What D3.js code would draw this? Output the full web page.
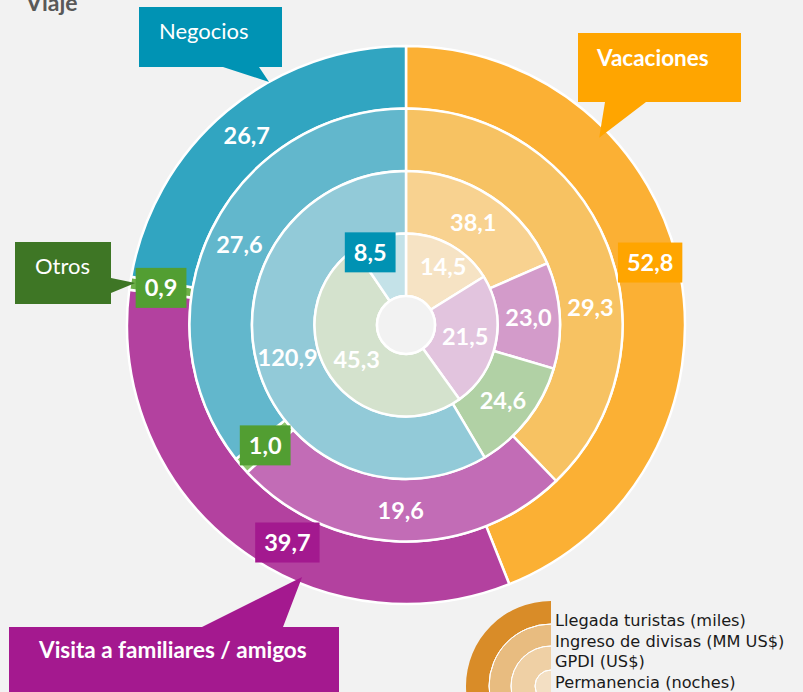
<!DOCTYPE html>
<html lang="es">
<head>
<meta charset="utf-8">
<title>Viaje</title>
<script src="https://cdn.jsdelivr.net/npm/d3@7"></script>
<style>
  html, body { margin: 0; padding: 0; background: #F2F2F2; }
  svg { display: block; }
</style>
</head>
<body>
<svg id="chart" width="803" height="692"></svg>
<script>
// Motivos de viaje, en el orden en que se recorren los anillos (sentido horario desde arriba)
const categories = ["Vacaciones", "Visita a familiares / amigos", "Otros", "Negocios"];

// Indicadores, del anillo exterior al interior
const indicators = ["Llegada turistas (miles)", "Ingreso de divisas (MM US$)", "GPDI (US$)", "Permanencia (noches)"];

// Valores por indicador (mismo orden que categories)
const llegadaTuristas = [52.8, 39.7, 0.9, 26.7];
const ingresoDivisas  = [29.3, 19.6, 1.0, 27.6];
const gpdi            = [38.1, 23.0, 24.6, 120.9];
const permanencia     = [14.5, 21.5, 45.3, 8.5];

const series = [llegadaTuristas, ingresoDivisas, gpdi, permanencia];

// Paleta: una fila por anillo, una columna por motivo
const palette = [
  ["#FBB034", "#B3419F", "#6FB04A", "#31A5C1"],
  ["#F7C262", "#C26CB6", "#8FC46E", "#62B7CC"],
  ["#F8D290", "#D39BCA", "#B1D1A5", "#92CAD8"],
  ["#F6E3C4", "#E2C4DE", "#D4E2CD", "#C4E2E8"]
];
const legendColors = ["#D98C28", "#E8BC80", "#EFD0A5", "#F3DFC3"];

// Etiquetas con recuadro de color: "anillo-motivo" -> color
const boxed = {
  "0-0": "#FFA500",
  "0-1": "#A3198F",
  "0-2": "#529E32",
  "1-2": "#529E32",
  "3-3": "#0092B3"
};
// Ajustes de posición de algunas etiquetas (fracción del sector, radio)
const labelTweak = {
  "0-0": { t: 0.478, r: 252 },
  "0-1": { t: 0.423 },
  "1-0": { t: 0.622 },
  "3-0": { t: 0.56, r: 69 },
  "3-3": { t: 0.23, r: 81 }
};

const fmt = v => d3.format(".1f")(v).replace(".", ",");

const svg = d3.select("#chart");
const cx = 406, cy = 325;

// Bordes radiales de los anillos: exterior -> interior
const radius = d3.scaleLinear().domain([0, 4]).range([279, 29]);

const pie = d3.pie().sort(null).value(d => d).startAngle(0).endAngle(2 * Math.PI);

const g = svg.append("g").attr("transform", `translate(${cx},${cy})`);

function polar(angle, r) {
  return [r * Math.sin(angle), -r * Math.cos(angle)];
}

series.forEach((values, ring) => {
  const rOut = radius(ring), rIn = radius(ring + 1);
  const arc = d3.arc().innerRadius(rIn).outerRadius(rOut);
  const arcs = pie(values);

  g.append("g").selectAll("path")
    .data(arcs)
    .join("path")
    .attr("d", arc)
    .attr("fill", (d, i) => palette[ring][i])
    .attr("stroke", "#FFFFFF")
    .attr("stroke-width", 2.5)
    .attr("stroke-linejoin", "round");
});

// Hueco central
g.append("circle")
  .attr("r", radius(4))
  .attr("fill", "#F2F2F2")
  .attr("stroke", "#FFFFFF")
  .attr("stroke-width", 2.5);

// Etiquetas de valores
const labelFont = "Lato, 'Open Sans', sans-serif";
series.forEach((values, ring) => {
  const rOut = radius(ring), rIn = radius(ring + 1);
  const arcs = pie(values);
  arcs.forEach((d, i) => {
    const key = `${ring}-${i}`;
    const tw = labelTweak[key] || {};
    const t = tw.t !== undefined ? tw.t : 0.5;
    const r = tw.r !== undefined ? tw.r : (rIn + rOut) / 2;
    const a = d.startAngle + (d.endAngle - d.startAngle) * t;
    const [x, y] = polar(a, r);
    const lg = g.append("g").attr("transform", `translate(${x},${y})`);
    const text = lg.append("text")
      .attr("text-anchor", "middle")
      .attr("dy", "0.36em")
      .attr("font-family", labelFont)
      .attr("font-weight", 700)
      .attr("font-size", 23.5)
      .attr("fill", "#FFFFFF")
      .text(fmt(d.data));
    if (boxed[key]) {
      const w = text.node().getComputedTextLength() + 18;
      lg.insert("rect", "text")
        .attr("x", -w / 2).attr("y", -20)
        .attr("width", w).attr("height", 40)
        .attr("fill", boxed[key]);
    }
  });
});

// Llamadas con el nombre de cada motivo
const callouts = [
  { name: categories[3], color: "#0093B4", box: [139, 7, 143, 60], side: "bottom", base: [223, 259],
    tip: [330.6, 279], text: [159, 39], weight: 400 },
  { name: categories[0], color: "#FFA500", box: [578, 33, 163, 69], side: "bottom", base: [605, 646],
    tip: [45.9, 269], text: [597, 66], weight: 700 },
  { name: categories[2], color: "#3E7625", box: [15, 242, 96, 62], side: "right", base: [278, 293],
    tip: [278.8, 274], text: [35, 274], weight: 400 },
  { name: categories[1], color: "#A4198F", box: [9, 627, 330, 80], side: "top", base: [202, 283],
    tip: [202.4, 272.6], text: [39, 658], weight: 700 }
];

callouts.forEach(c => {
  const [bx, by, bw, bh] = c.box;
  const [tx, ty] = polar(c.tip[0] * Math.PI / 180, c.tip[1]);
  const tip = [cx + tx, cy + ty];
  let pts;
  if (c.side === "bottom") {
    pts = [[bx, by], [bx + bw, by], [bx + bw, by + bh], [c.base[1], by + bh], tip, [c.base[0], by + bh], [bx, by + bh]];
  } else if (c.side === "top") {
    pts = [[bx, by], [c.base[0], by], tip, [c.base[1], by], [bx + bw, by], [bx + bw, by + bh], [bx, by + bh]];
  } else {
    pts = [[bx, by], [bx + bw, by], [bx + bw, c.base[0]], tip, [bx + bw, c.base[1]], [bx + bw, by + bh], [bx, by + bh]];
  }
  svg.append("path")
    .attr("d", d3.line()(pts) + "Z")
    .attr("fill", c.color);
  svg.append("text")
    .attr("x", c.text[0]).attr("y", c.text[1])
    .attr("font-family", labelFont)
    .attr("font-weight", c.weight)
    .attr("font-size", c.weight === 700 ? 22.5 : 22)
    .attr("fill", "#FFFFFF")
    .text(c.name);
});

// Título
svg.append("text")
  .attr("x", 26).attr("y", 11)
  .attr("font-family", labelFont)
  .attr("font-weight", 700)
  .attr("font-size", 23)
  .attr("fill", "#595959")
  .text("Viaje");

// Leyenda: anillos concéntricos con el orden de los indicadores
const lx = 551, ly = 686;
const legendRadius = [85, 62, 40, 16, 0];
const lgd = svg.append("g").attr("transform", `translate(${lx},${ly})`);
indicators.forEach((name, i) => {
  lgd.append("path")
    .attr("d", d3.arc()
      .innerRadius(legendRadius[i + 1])
      .outerRadius(legendRadius[i])
      .startAngle(-Math.PI)
      .endAngle(0)())
    .attr("fill", legendColors[i]);
  if (i > 0) {
    lgd.append("path")
      .attr("d", d3.arc()
        .innerRadius(legendRadius[i])
        .outerRadius(legendRadius[i])
        .startAngle(-Math.PI)
        .endAngle(0)())
      .attr("fill", "none")
      .attr("stroke", "#FFFFFF")
      .attr("stroke-width", 1);
  }
  svg.append("text")
    .attr("x", 555)
    .attr("y", 626 + i * 20.7)
    .attr("font-family", "'DejaVu Sans', Verdana, sans-serif")
    .attr("font-size", 16.2)
    .attr("fill", "#1A1A1A")
    .text(name);
});
</script>
</body>
</html>
